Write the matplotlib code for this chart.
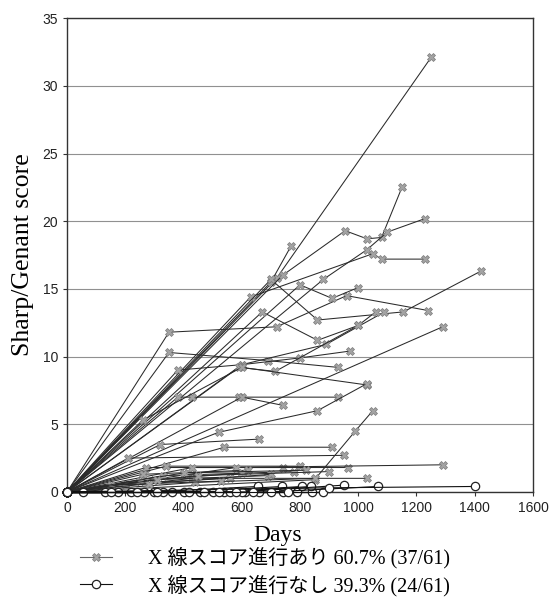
import matplotlib
matplotlib.use('Agg')
import matplotlib.pyplot as plt
from matplotlib.lines import Line2D
from matplotlib.font_manager import FontProperties

# X線スコア進行あり (37例): 各症例の観察日と Sharp/Genant score
prog_days = [
    [0, 720, 1250], [0, 700, 770], [0, 740, 955, 1030, 1080, 1150],
    [0, 880, 1030, 1100, 1230], [0, 630, 1050, 1080, 1230],
    [0, 350, 720, 960, 1240], [0, 700, 860, 1155, 1420], [0, 1290],
    [0, 800, 910, 1000], [0, 350, 690, 930], [0, 380, 600, 800, 970],
    [0, 600, 890, 1090], [0, 670, 860, 1000, 1060], [0, 590, 715, 1000],
    [0, 380, 430, 590, 930], [0, 600, 740], [0, 260, 600, 1030],
    [0, 520, 860, 1030], [0, 320, 660], [0, 540, 910], [0, 850, 990, 1050],
    [0, 210, 950], [0, 270, 740], [0, 340, 800], [0, 430, 966],
    [0, 580, 1290], [0, 430, 1030], [0, 260, 620], [0, 300, 690],
    [0, 200, 560], [0, 330, 780], [0, 250, 600], [0, 440, 850],
    [0, 150, 530], [0, 280, 700], [0, 400, 820], [0, 310, 450, 900],
]
prog_scores = [
    [0, 15.8, 32.1], [0, 15.5, 18.2], [0, 16.0, 19.3, 18.7, 18.8, 22.5],
    [0, 15.7, 17.9, 19.2, 20.2], [0, 14.4, 17.6, 17.2, 17.2],
    [0, 11.8, 12.2, 14.5, 13.4], [0, 15.7, 12.7, 13.3, 16.3], [0, 12.2],
    [0, 15.3, 14.3, 15.1], [0, 10.3, 9.7, 9.2], [0, 9.0, 9.4, 9.9, 10.4],
    [0, 9.4, 10.9, 13.3], [0, 13.3, 11.2, 12.3, 13.3], [0, 9.2, 8.9, 12.3],
    [0, 7.0, 7.0, 7.0, 7.0], [0, 7.0, 6.4], [0, 5.3, 9.2, 7.9],
    [0, 4.4, 6.0, 8.0], [0, 3.5, 3.9], [0, 3.3, 3.3], [0, 0.9, 4.5, 6.0],
    [0, 2.5, 2.7], [0, 1.8, 1.8], [0, 1.9, 1.9], [0, 1.8, 1.8],
    [0, 1.8, 2.0], [0, 1.0, 1.0], [0, 1.3, 1.6], [0, 0.9, 1.2],
    [0, 0.6, 1.0], [0, 1.2, 1.5], [0, 0.8, 1.4], [0, 0.7, 1.0],
    [0, 0.5, 0.8], [0, 0.6, 1.3], [0, 1.4, 1.6], [0, 0.9, 1.2, 1.5],
]

# X線スコア進行なし (24例)
noprog_days = [
    [0, 55, 330], [0, 130, 455], [0, 175, 540], [0, 220, 610], [0, 265, 660],
    [0, 360, 740], [0, 400, 790], [0, 840], [0, 880], [0, 300, 656],
    [0, 420, 739], [0, 500, 808], [0, 560, 838], [0, 600, 952],
    [0, 700, 1069], [0, 900, 1402], [0, 150], [0, 240], [0, 310], [0, 470],
    [0, 520], [0, 580], [0, 640], [0, 760],
]
noprog_scores = [
    [0, 0, 0], [0, 0, 0], [0, 0, 0], [0, 0, 0], [0, 0, 0],
    [0, 0, 0], [0, 0, 0], [0, 0], [0, 0], [0, 0, 0.4],
    [0, 0, 0.4], [0, 0, 0.4], [0, 0, 0.4], [0, 0, 0.5],
    [0, 0, 0.4], [0, 0.3, 0.4], [0, 0], [0, 0], [0, 0], [0, 0],
    [0, 0], [0, 0], [0, 0], [0, 0],
]

legend_labels = ['X 線スコア進行あり 60.7% (37/61)',
                 'X 線スコア進行なし 39.3% (24/61)']

line_c = '#2a2a2a'
x_style = dict(marker='X', markersize=6, markerfacecolor='#a3a3a3',
               markeredgecolor='#7a7a7a', markeredgewidth=0.5)
o_style = dict(marker='o', markersize=6, markerfacecolor='white',
               markeredgecolor='#222222', markeredgewidth=0.9)

fig = plt.figure(figsize=(5.5, 6.08), dpi=100)
ax = fig.add_axes([0.122, 0.191, 0.847, 0.779])

for d, s in zip(prog_days, prog_scores):
    ax.plot(d, s, color=line_c, lw=0.75, clip_on=False, zorder=3, **x_style)
for d, s in zip(noprog_days, noprog_scores):
    ax.plot(d, s, color='#111111', lw=0.8, clip_on=False, zorder=4, **o_style)

ax.set_xlim(0, 1600)
ax.set_ylim(0, 35)
ax.set_xticks(range(0, 1601, 200))
ax.set_yticks(range(0, 36, 5))
ax.yaxis.grid(True, color='#909090', lw=0.8)
ax.set_axisbelow(True)
for sp in ax.spines.values():
    sp.set_color('#333333')
    sp.set_linewidth(1.0)
ax.tick_params(direction='out', length=3, width=0.8, colors='#333333',
               labelsize=10, labelcolor='#222222')
for lab in ax.get_xticklabels() + ax.get_yticklabels():
    lab.set_family('Liberation Sans')

ax.set_ylabel('Sharp/Genant score', family='Liberation Serif', fontsize=18.5,
              labelpad=6)
fig.text(278 / 550, 1 - 535 / 608, 'Days', family='Liberation Serif',
         fontsize=17, ha='center', va='center')

handles = [Line2D([], [], color='#666666', lw=0.8, **x_style),
           Line2D([], [], color='#111111', lw=0.8, **o_style)]
fig.legend(handles, legend_labels, loc='upper left',
           bbox_to_anchor=(80 / 550, 1 - 547 / 608), frameon=False,
           borderpad=0, borderaxespad=0, handlelength=1.6,
           handletextpad=1.8, labelspacing=0.3,
           prop=FontProperties(family=['Liberation Serif', 'Noto Sans CJK JP'],
                               size=14.5))

fig.savefig('out.png', dpi=100)
